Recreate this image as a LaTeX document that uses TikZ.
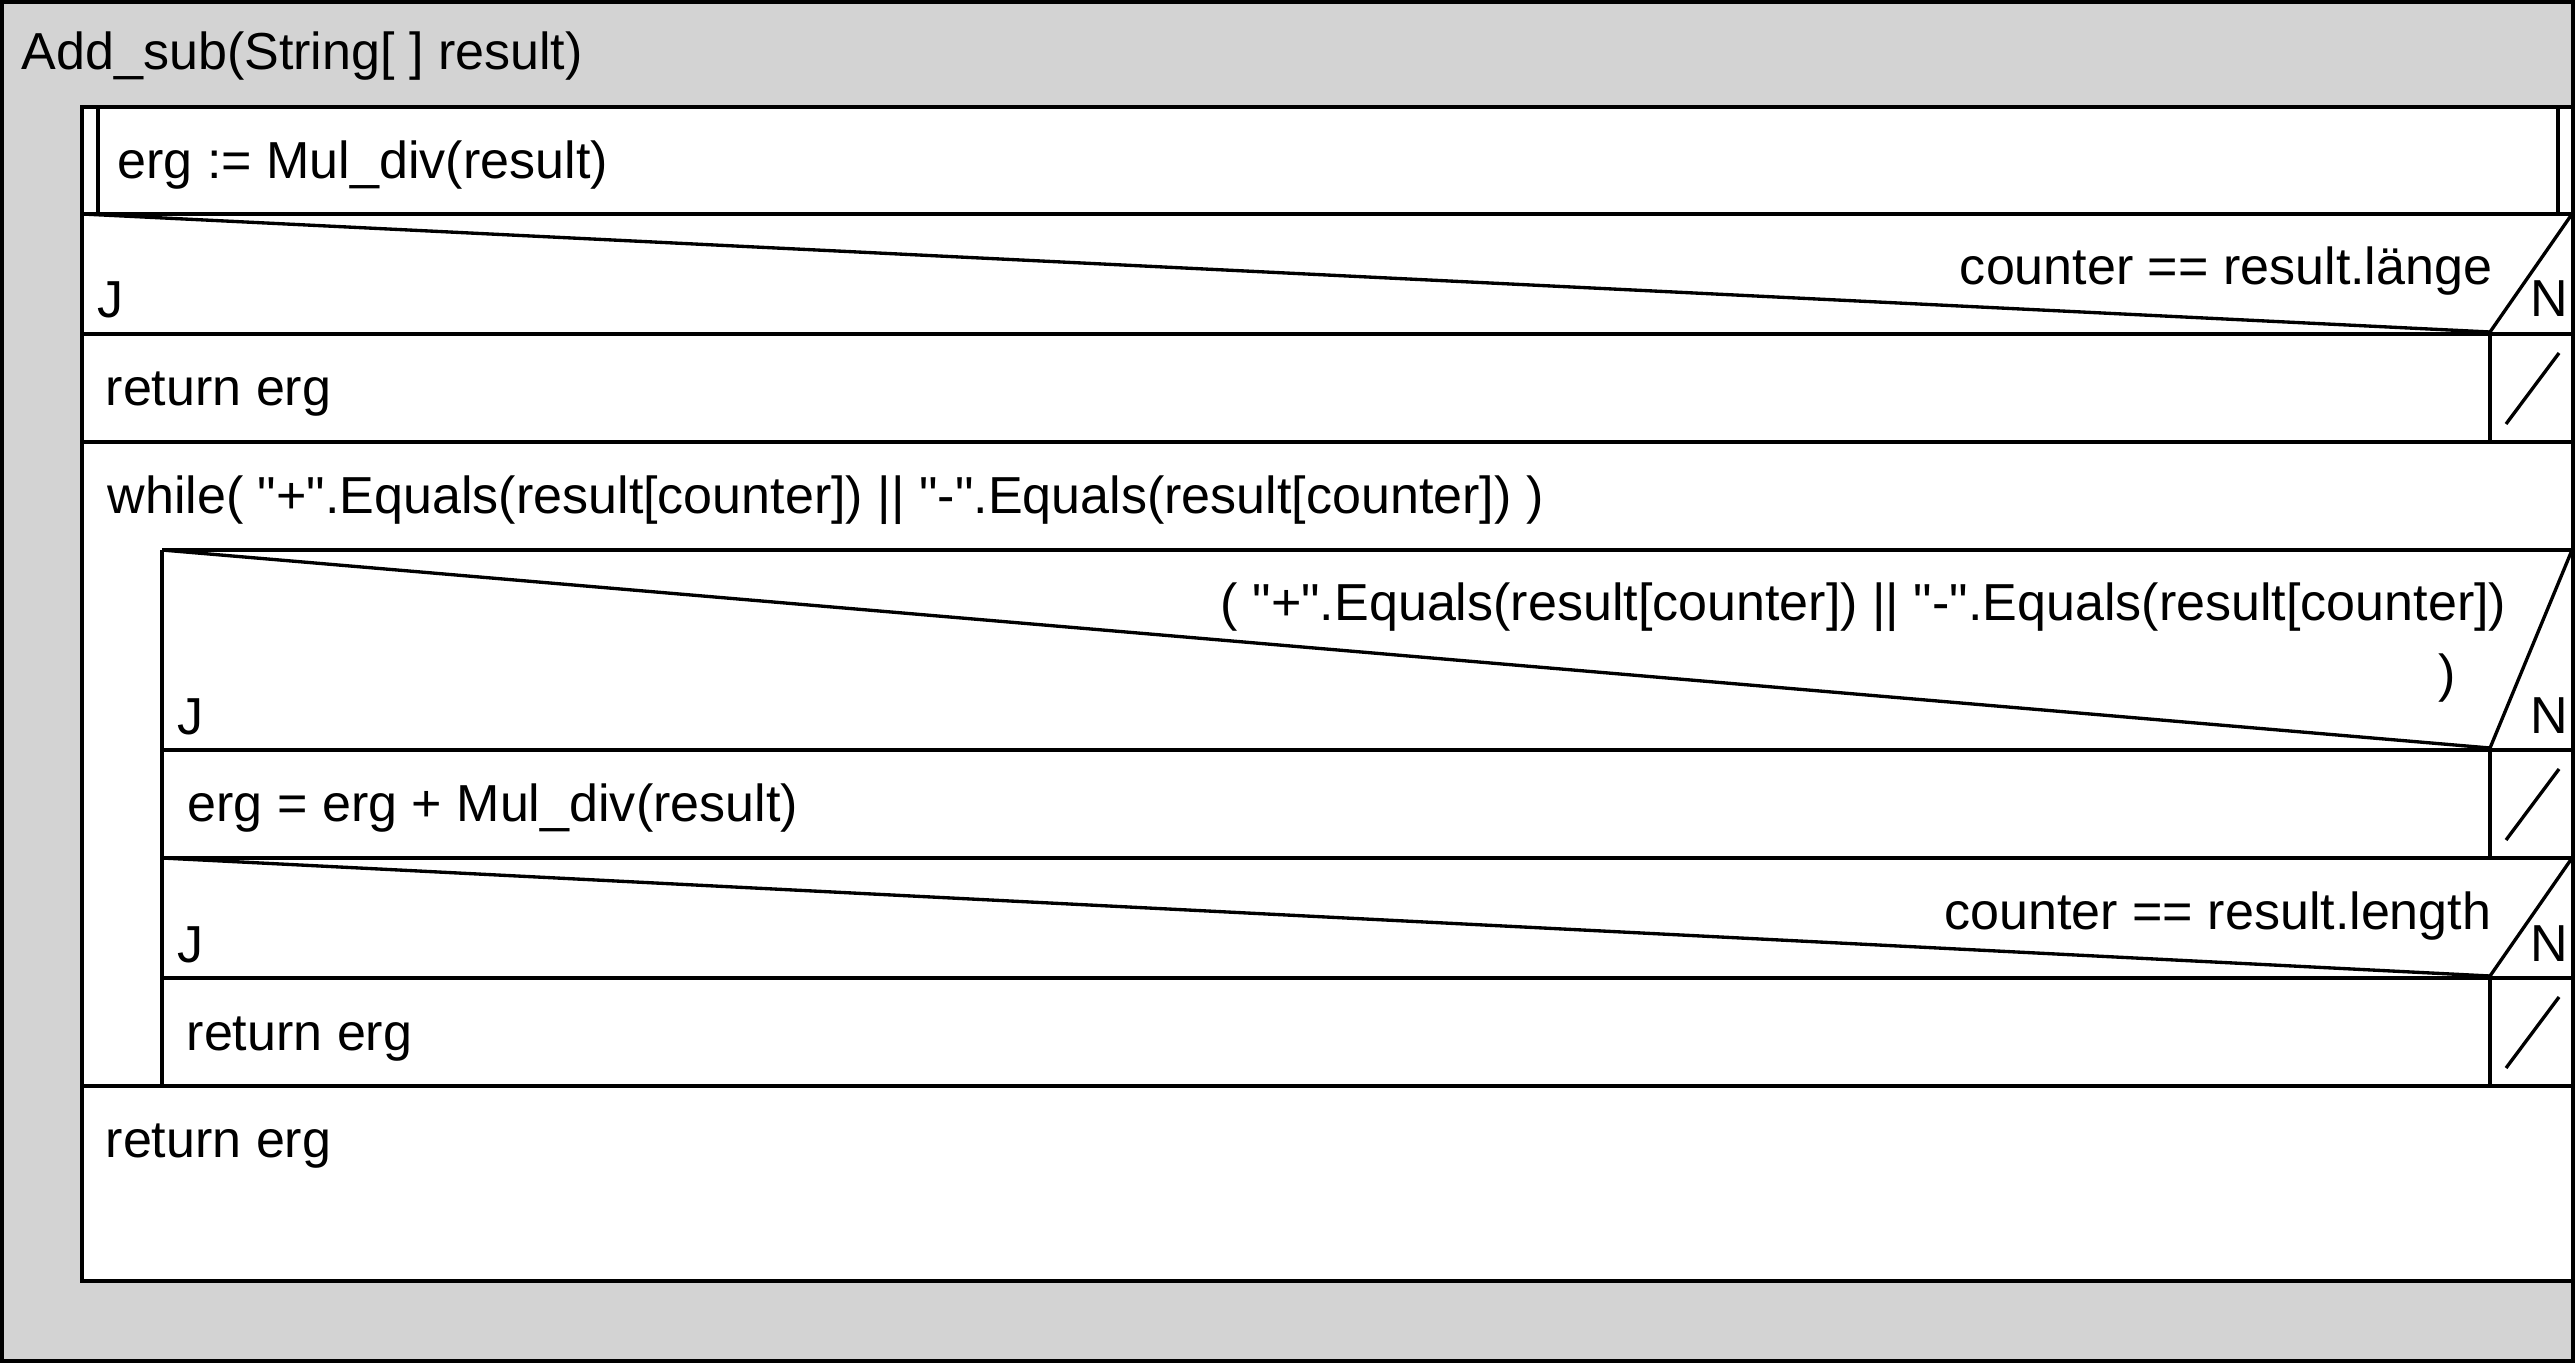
\documentclass[tikz,border=0pt]{standalone}
\usepackage{fontspec}
\setmainfont{Liberation Sans}

\definecolor{nsgray}{RGB}{211,211,211}
\newcommand{\nsfont}{\fontsize{14.8}{17.8}\selectfont}
\newcommand{\qq}{\textquotedbl}
\tikzset{
  nstext/.style={anchor=base west, inner sep=0pt, font=\nsfont},
  nscond/.style={anchor=base east, inner sep=0pt, font=\nsfont},
}

\begin{document}
\begin{tikzpicture}[x=0.01cm, y=-0.01cm, line width=0.95pt]
\useasboundingbox (0,0) rectangle (2576,1364);

% Outer frame (procedure head)
\draw[fill=nsgray] (2,2) rectangle (2573,1361);
\node[nstext] (title) at (20,70) {Add\_sub(String[ ] result)};

% Main block
\draw[fill=white] (82,107) rectangle (2573,1281);

% Call
\draw (98,107) -- (98,214);
\draw (2558,107) -- (2558,214);
\node[nstext] (call) at (116,179) {erg := Mul\_div(result)};

% Alternatives: top line, diagonals, J/N
\foreach \xl/\yt/\yb [count=\i] in {82/214/334, 162/550/750, 162/858/978} {
  \draw (\xl,\yt) -- (2573,\yt);
  \draw (\xl,\yt) -- (2490,\yb-2) -- (2572,\yt);
  \draw (\xl,\yb) -- (2573,\yb);
  \node[nstext] (J\i) at (\xl+14,\yb-16) {J};
  \node[nstext] (N\i) at (2529,\yb-17) {N};
}

% Empty N-branches
\foreach \yt/\yb in {334/442, 750/858, 978/1086} {
  \draw (2490,\yt) -- (2490,\yb);
  \draw (2506,\yb-18) -- (2559,\yt+19);
}

\node[nscond] (cond1) at (2494,285) {counter == result.länge};
\node[nstext] (ret1) at (104,406) {return erg};

% While loop
\draw (82,442) -- (2573,442);
\draw (82,1086) -- (2573,1086);
\node[nstext] (loop) at (106,513) {while( \qq+\qq.Equals(result[counter]) || \qq-\qq.Equals(result[counter]) )};

\begin{scope}
\draw (162,550) -- (162,1086);
\node[nscond] (cond2a) at (2508,620) {( \qq+\qq.Equals(result[counter]) || \qq-\qq.Equals(result[counter])};
\node[nscond] (cond2b) at (2457,691) {)};
\node[nstext] (add) at (186,821) {erg = erg + Mul\_div(result)};
\node[nscond] (cond3) at (2493,929) {counter == result.length};
\node[nstext] (ret2) at (185,1050) {return erg};
\end{scope}

\node[nstext] (ret3) at (104,1157) {return erg};

\end{tikzpicture}
\end{document}
